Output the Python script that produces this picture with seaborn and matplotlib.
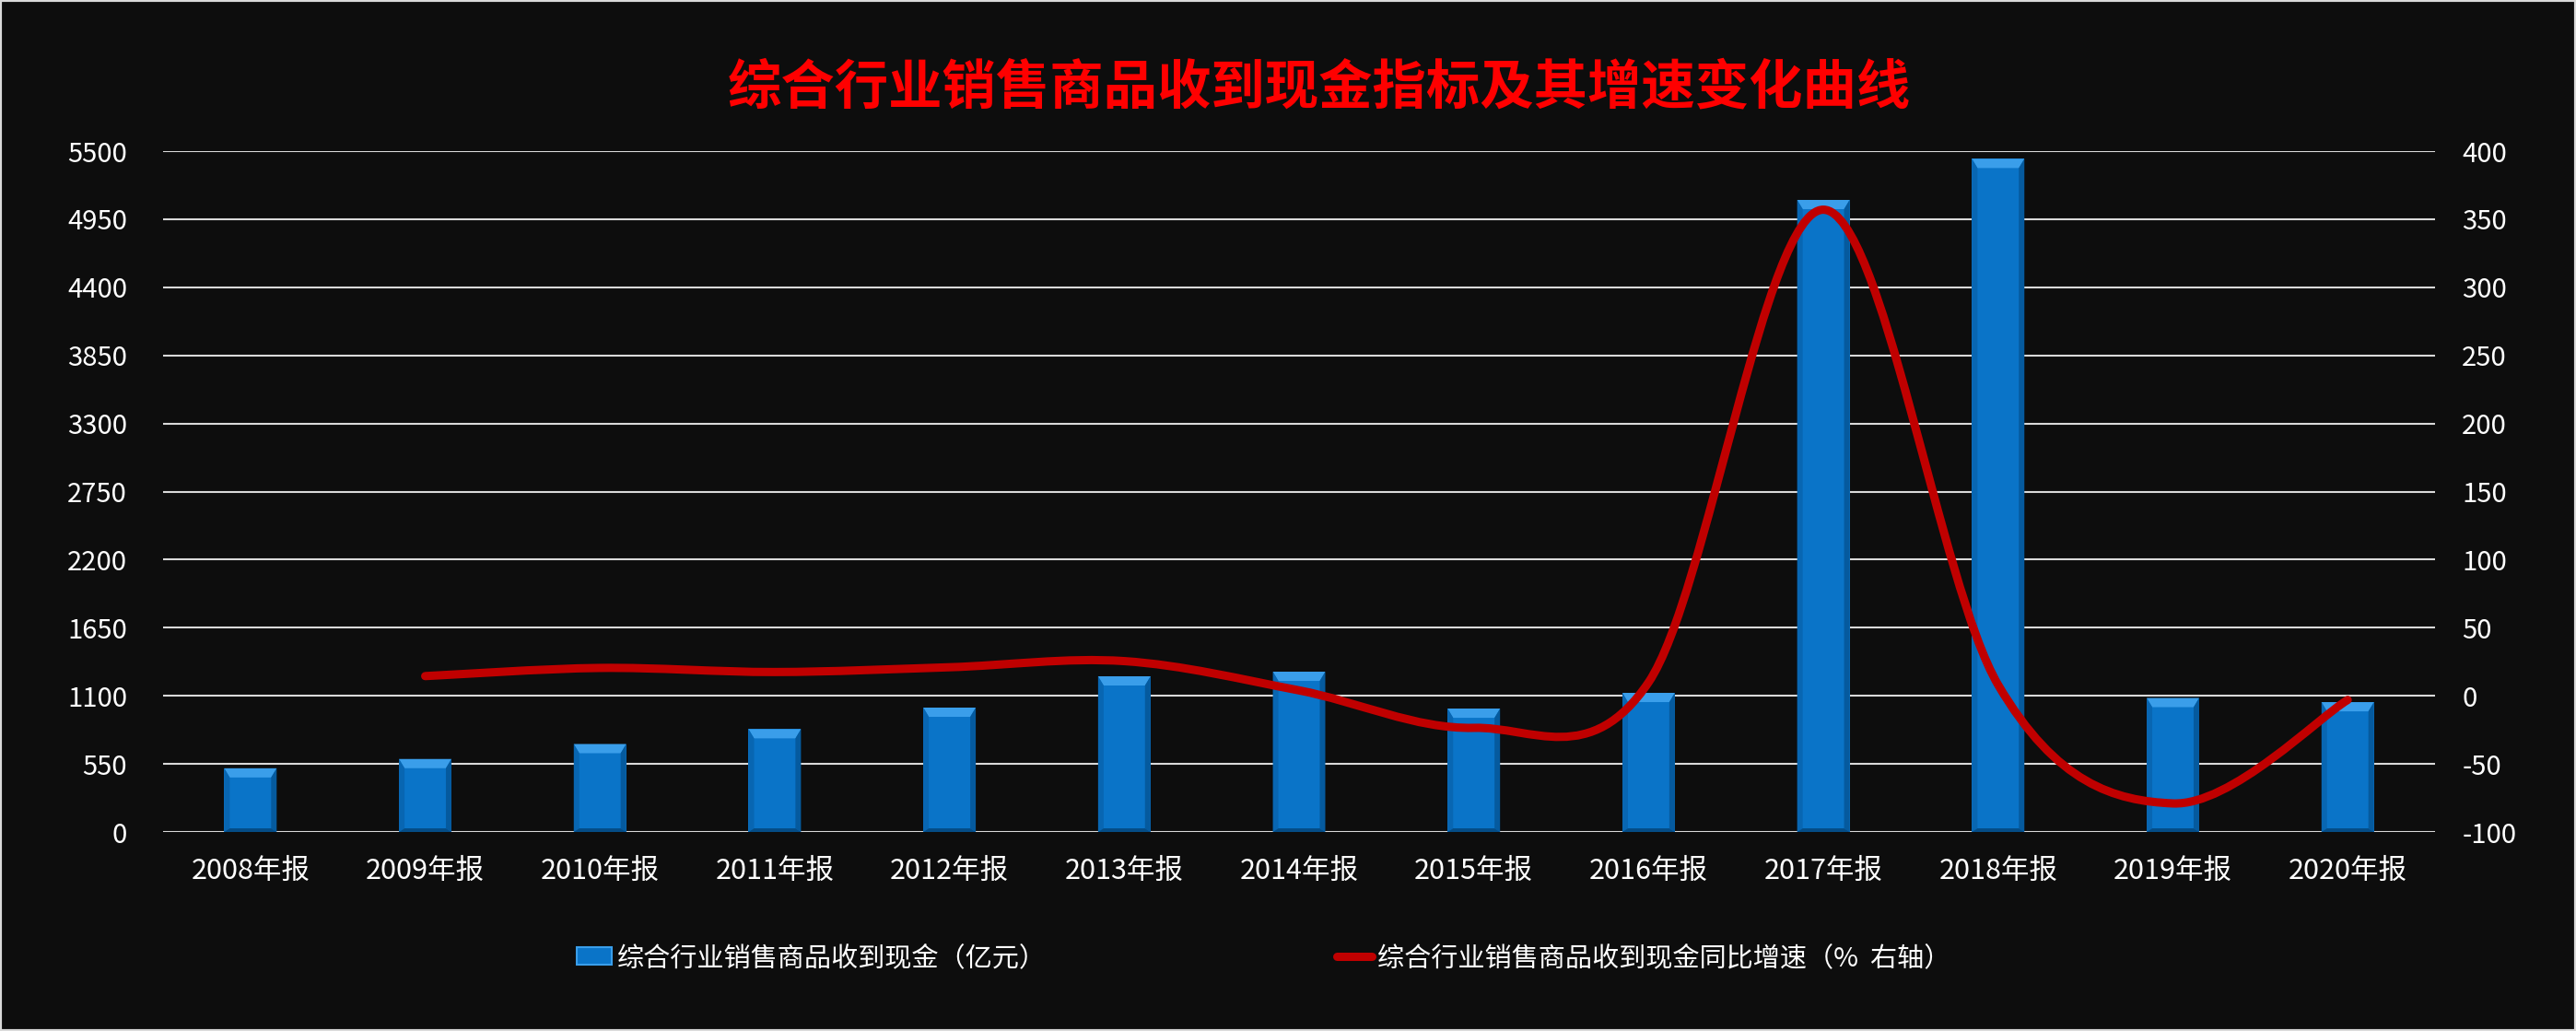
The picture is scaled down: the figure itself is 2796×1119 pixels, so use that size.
import numpy as np
import pandas as pd
import matplotlib
matplotlib.use("Agg")
import matplotlib.pyplot as plt
import seaborn as sns
from matplotlib.path import Path
from matplotlib.patches import PathPatch, Polygon, Patch, Rectangle
from matplotlib.lines import Line2D

# ---------- data ----------
years = ['2008年报', '2009年报', '2010年报', '2011年报', '2012年报', '2013年报', '2014年报',
         '2015年报', '2016年报', '2017年报', '2018年报', '2019年报', '2020年报']
cash = [515, 590, 711, 831, 1005, 1258, 1295, 997, 1124, 5106, 5438, 1083, 1049]
growth_years = years[1:]
growth = [14.5, 20.5, 17.5, 21, 25.5, 4, -23.5, 10, 357, 8, -79, -3]

left_ticks = list(range(0, 5501, 550))
right_ticks = list(range(-100, 401, 50))

title = '综合行业销售商品收到现金指标及其增速变化曲线'
bar_label = '综合行业销售商品收到现金（亿元）'
line_label = '综合行业销售商品收到现金同比增速（%  右轴）'

BG = '#0D0D0D'
BLUE = '#0A74C8'
RED = '#C00000'
GRID = '#D9D9D9'

sns.set_style('dark')
plt.rcParams['font.family'] = ['Noto Sans CJK SC', 'DejaVu Sans']
plt.rcParams['axes.unicode_minus'] = False

df = pd.DataFrame({'year': years, 'cash': cash})

fig = plt.figure(figsize=(27.96, 11.19), dpi=100, facecolor=BG)
ax = fig.add_axes([0.0633, 0.193, 0.882, 0.6604])
ax.set_facecolor(BG)

sns.barplot(data=df, x='year', y='cash', color=BLUE, width=0.3,
            saturation=1, ax=ax, zorder=3)
for p in ax.patches:
    p.set_facecolor(BLUE)
    p.set_edgecolor('none')

ax.set_xlim(-0.5, len(years) - 0.5)
ax.set_ylim(0, 5500)
ax.set_yticks(left_ticks)
ax.set_yticklabels([str(t) for t in left_ticks])
ax.grid(axis='y', color=GRID, linewidth=1.5, zorder=0)
ax.grid(axis='x', visible=False)
ax.set_axisbelow(True)
for s in ax.spines.values():
    s.set_visible(False)
ax.set_xlabel('')
ax.set_ylabel('')
ax.tick_params(axis='y', length=0, pad=28, labelsize=21, labelcolor='white')
ax.tick_params(axis='x', length=0, pad=19, labelsize=22, labelcolor='white')

# bevel look on the bars
bb = ax.get_window_extent(renderer=fig.canvas.get_renderer())
px = (ax.get_xlim()[1] - ax.get_xlim()[0]) / bb.width
py = (ax.get_ylim()[1] - ax.get_ylim()[0]) / bb.height
for p in list(ax.patches):
    x0, w, h = p.get_x(), p.get_width(), p.get_height()
    bw, bh, bot = 6 * px, 10 * py, 4 * py
    ax.add_patch(Polygon([(x0, h), (x0 + w, h), (x0 + w - bw, h - bh), (x0 + bw, h - bh)],
                         closed=True, facecolor='#3A9EEA', edgecolor='none', zorder=4))
    ax.add_patch(Polygon([(x0, h), (x0 + bw, h - bh), (x0 + bw, bot), (x0, 0)],
                         closed=True, facecolor='#0866B2', edgecolor='none', zorder=4))
    ax.add_patch(Polygon([(x0 + w, h), (x0 + w - bw, h - bh), (x0 + w - bw, bot), (x0 + w, 0)],
                         closed=True, facecolor='#055A9E', edgecolor='none', zorder=4))
    ax.add_patch(Polygon([(x0, 0), (x0 + w, 0), (x0 + w - bw, bot), (x0 + bw, bot)],
                         closed=True, facecolor='#044C86', edgecolor='none', zorder=4))

# right axis: smoothed growth line
ax2 = ax.twinx()
ax2.set_ylim(-100, 400)
ax2.set_yticks(right_ticks)
ax2.set_yticklabels([str(t) for t in right_ticks])
ax2.grid(False)
for s in ax2.spines.values():
    s.set_visible(False)
ax2.tick_params(axis='y', length=0, pad=21, labelsize=21, labelcolor='white')

xs = np.array([years.index(y) for y in growth_years], dtype=float)
ys = np.array(growth, dtype=float)
pts = np.column_stack([xs, ys])
ext = np.vstack([pts[0], pts, pts[-1]])
verts = [tuple(pts[0])]
codes = [Path.MOVETO]
for i in range(len(pts) - 1):
    p0, p1, p2, p3 = ext[i], ext[i + 1], ext[i + 2], ext[i + 3]
    c1 = p1 + (p2 - p0) / 6
    c2 = p2 - (p3 - p1) / 6
    verts += [tuple(c1), tuple(c2), tuple(p2)]
    codes += [Path.CURVE4] * 3
ax2.add_patch(PathPatch(Path(verts, codes), facecolor='none', edgecolor=RED,
                        linewidth=6.5, capstyle='round', joinstyle='round', zorder=5))

# title
fig.text(0.512, 0.915, title, ha='center', va='center', fontsize=42,
         fontweight='heavy', color='#FF0000')

# legends
h1 = Patch(facecolor=BLUE, edgecolor='#3A9EEA', linewidth=1.5)
h2 = Line2D([], [], color=RED, linewidth=6.5, solid_capstyle='round')
for h, lab, xpos in [(h1, bar_label, 0.224), (h2, line_label, 0.519)]:
    fig.legend([h], [lab], loc='center left', bbox_to_anchor=(xpos, 0.0706),
               frameon=False, fontsize=21, labelcolor='white', borderpad=0,
               borderaxespad=0, handlelength=1.3, handleheight=0.6,
               handletextpad=0.2)

# outer frame
fig.patches.append(Rectangle((0, 0), 1, 1, transform=fig.transFigure, fill=False,
                             edgecolor='#D9D9D9', linewidth=3))

fig.savefig('out.png', dpi=100, facecolor=BG)
